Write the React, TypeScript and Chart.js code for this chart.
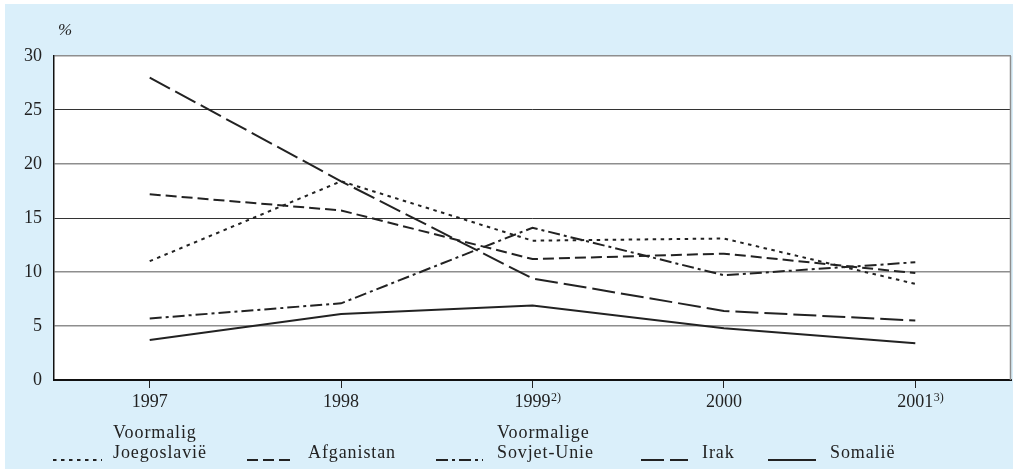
import React, { useEffect, useRef } from 'react';
import { Chart, registerables } from 'chart.js';

Chart.register(...registerables);

// ---- data ----
const years = ['1997', '1998', '1999', '2000', '2001'];
const yearNotes = ['', '', '2)', '', '3)'];
const seriesNames = [
  ['Voormalig', 'Joegoslavië'],
  ['Afganistan'],
  ['Voormalige', 'Sovjet-Unie'],
  ['Irak'],
  ['Somalië'],
];
const joegoslavie = [11.0, 18.4, 12.9, 13.1, 8.9];
const afganistan = [17.2, 15.7, 11.2, 11.7, 9.9];
const sovjetUnie = [5.7, 7.1, 14.1, 9.7, 10.9];
const irak = [28.0, 18.4, 9.4, 6.4, 5.5];
const somalie = [3.7, 6.1, 6.9, 4.8, 3.4];
const yMin = 0;
const yMax = 30;
const yStep = 5;
const yUnit = '%';

const FONT = '"Liberation Serif", "Times New Roman", serif';
const INK = '#222';
const dashes = [[3.5, 4.5], [11, 5], [12, 4, 3, 4], [23, 6], []];
const seriesValues = [joegoslavie, afganistan, sovjetUnie, irak, somalie];

// legend layout (sample start, sample width, text x)
const legendLayout = [
  { sx: 53, sw: 49, tx: 113 },
  { sx: 247, sw: 48, tx: 308 },
  { sx: 436, sw: 47, tx: 497 },
  { sx: 641, sw: 47, tx: 702 },
  { sx: 768, sw: 48, tx: 830 },
];

const decor = {
  id: 'decor',
  beforeDraw(chart: any) {
    const { ctx, chartArea: a } = chart;
    ctx.save();
    ctx.fillStyle = '#fff';
    ctx.fillRect(a.left, a.top, a.right - a.left, a.bottom - a.top);
    ctx.restore();
  },
  afterDraw(chart: any) {
    const { ctx, chartArea: a } = chart;
    const xs = chart.scales.x;
    ctx.save();
    // right border
    ctx.strokeStyle = '#8e8e8e';
    ctx.lineWidth = 1.5;
    ctx.beginPath();
    ctx.moveTo(a.right - 0.5, a.top);
    ctx.lineTo(a.right - 0.5, a.bottom);
    ctx.stroke();

    // x labels with superscript notes
    ctx.fillStyle = INK;
    ctx.textBaseline = 'alphabetic';
    years.forEach((lab, i) => {
      const x = xs.getPixelForTick(i);
      ctx.font = `18px ${FONT}`;
      ctx.textAlign = 'center';
      ctx.fillText(lab, x, 407);
      if (yearNotes[i]) {
        const w = ctx.measureText(lab).width;
        ctx.font = `12px ${FONT}`;
        ctx.textAlign = 'left';
        ctx.fillText(yearNotes[i], x + w / 2 + 0.5, 401);
      }
    });

    // unit label
    ctx.font = `italic 17px ${FONT}`;
    ctx.textAlign = 'left';
    ctx.fillText(yUnit, 58, 35);

    // legend
    chart.data.datasets.forEach((ds: any, i: number) => {
      const L = legendLayout[i];
      ctx.strokeStyle = ds.borderColor;
      ctx.lineWidth = 2.2;
      ctx.setLineDash(ds.borderDash || []);
      ctx.beginPath();
      ctx.moveTo(L.sx, 460);
      ctx.lineTo(L.sx + L.sw, 460);
      ctx.stroke();
      ctx.setLineDash([]);
      ctx.font = `18px ${FONT}`;
      ctx.textAlign = 'left';
      (ctx as any).letterSpacing = '0.9px';
      const lines = seriesNames[i];
      lines.forEach((t, j) => {
        const y = 458 - (lines.length - 1 - j) * 20;
        ctx.fillText(t, L.tx, y);
      });
      (ctx as any).letterSpacing = '0px';
    });
    ctx.restore();
  },
};

export default function App() {
  const ref = useRef<HTMLCanvasElement>(null);
  useEffect(() => {
    if (!ref.current) return;
    const chart = new Chart(ref.current, {
      type: 'line',
      data: {
        labels: years,
        datasets: seriesValues.map((v, i) => ({
          label: seriesNames[i].join(' '),
          data: v,
          borderColor: INK,
          borderWidth: 2,
          borderDash: dashes[i],
          pointRadius: 0,
          tension: 0,
          fill: false,
        })),
      },
      options: {
        responsive: false,
        animation: false,
        layout: { padding: { top: 56, right: 2, left: 0, bottom: 0 } },
        plugins: { legend: { display: false }, tooltip: { enabled: false } },
        scales: {
          x: {
            type: 'category',
            offset: true,
            grid: {
              display: true,
              drawOnChartArea: false,
              drawTicks: true,
              tickLength: 8,
              color: INK,
              lineWidth: 1,
              offset: false,
            },
            border: { display: true, color: '#111', width: 2 },
            ticks: { display: false },
            afterFit: (s: any) => { s.height = 90; },
          },
          y: {
            min: yMin,
            max: yMax,
            ticks: {
              stepSize: yStep,
              color: INK,
              padding: 12,
              font: { family: FONT, size: 18 },
            },
            grid: {
              drawTicks: false,
              color: (c: any) => {
                const v = c.tick && c.tick.value;
                if (v === 0) return 'rgba(0,0,0,0)';
                if (v === 25 || v === 15) return '#333';
                return '#8e8e8e';
              },
              lineWidth: (c: any) => {
                const v = c.tick && c.tick.value;
                return v === 25 || v === 15 ? 1 : 1.5;
              },
            },
            border: { display: true, color: '#111', width: 1.5 },
            afterFit: (s: any) => { s.width = 54; },
          },
        },
      },
      plugins: [decor],
    } as any);
    return () => chart.destroy();
  }, []);

  return (
    <div style={{ position: 'absolute', left: 0, top: 0, width: 1013, height: 470, background: '#fff' }}>
      <div style={{ position: 'absolute', left: 5, top: 4, right: 0, bottom: 1, background: '#daeffa' }} />
      <canvas
        ref={ref}
        width={1013}
        height={470}
        style={{ position: 'absolute', left: 0, top: 0, width: 1013, height: 470 }}
      />
    </div>
  );
}
